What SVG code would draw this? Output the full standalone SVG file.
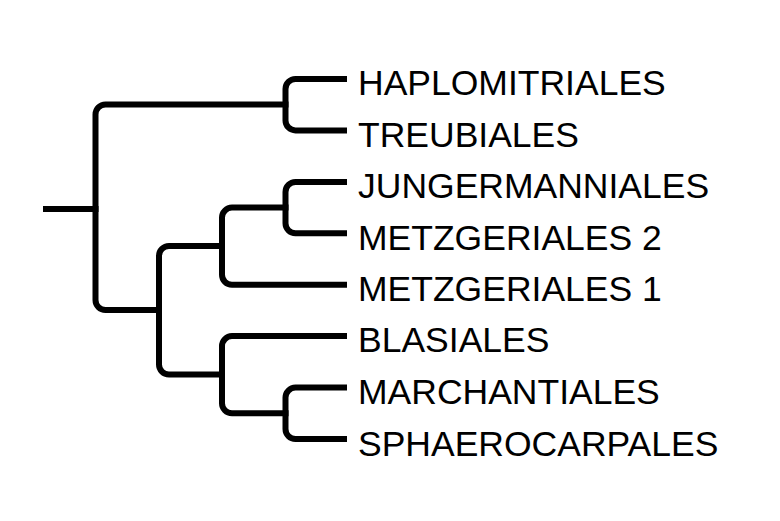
<svg xmlns="http://www.w3.org/2000/svg" width="780" height="521" viewBox="0 0 780 521">
<style>
.br{fill:none;stroke:#000;stroke-width:6;stroke-linecap:butt;stroke-linejoin:round}
.lb{font-family:"Liberation Sans",Arial,sans-serif;font-size:35.5px;fill:#000}
</style>
<rect width="780" height="521" fill="#fff"/>
<g id="connectors">
<path class="br" d="M43 209 H98.5"/>
<path class="br" d="M288.5 104.5 H105.5 A10 10 0 0 0 95.5 114.5 V300 A10 10 0 0 0 105.5 310 H162"/>
<path class="br" d="M347 79 H295.5 A10 10 0 0 0 285.5 89 V120.4 A10 10 0 0 0 295.5 130.4 H347"/>
<path class="br" d="M225 246 H169 A10 10 0 0 0 159 256 V364.6 A10 10 0 0 0 169 374.6 H225"/>
<path class="br" d="M288.5 207.6 H232 A10 10 0 0 0 222 217.6 V274.7 A10 10 0 0 0 232 284.7 H347"/>
<path class="br" d="M347 181.9 H295.5 A10 10 0 0 0 285.5 191.9 V223.3 A10 10 0 0 0 295.5 233.3 H347"/>
<path class="br" d="M347 336.1 H232 A10 10 0 0 0 222 346.1 V403.3 A10 10 0 0 0 232 413.3 H288.5"/>
<path class="br" d="M347 387.6 H295.5 A10 10 0 0 0 285.5 397.6 V429 A10 10 0 0 0 295.5 439 H347"/>
</g>
<g id="haplomitriales"><text class="lb" x="358" y="95">HAPLOMITRIALES</text></g>
<g id="treubiales"><text class="lb" x="358" y="147">TREUBIALES</text></g>
<g id="jungermanniales"><text class="lb" x="358" y="198">JUNGERMANNIALES</text></g>
<g id="metzgeriales2"><text class="lb" x="358" y="250">METZGERIALES 2</text></g>
<g id="metzgeriales1"><text class="lb" x="358" y="301">METZGERIALES 1</text></g>
<g id="blasiales"><text class="lb" x="358" y="352">BLASIALES</text></g>
<g id="marchantiales"><text class="lb" x="358" y="404">MARCHANTIALES</text></g>
<g id="sphaerocarpales"><text class="lb" x="358" y="456">SPHAEROCARPALES</text></g>
</svg>
